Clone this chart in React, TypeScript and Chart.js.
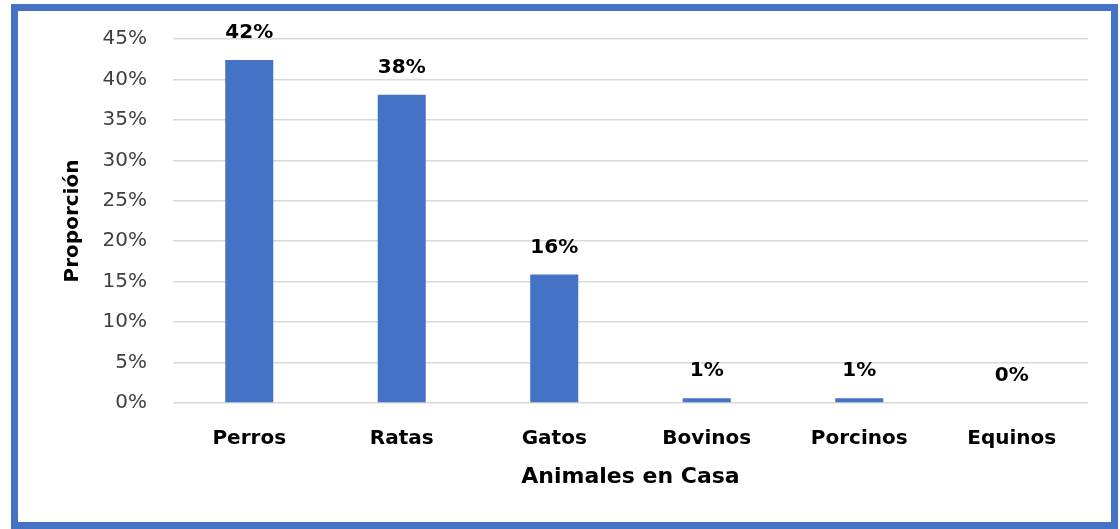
import React, { useEffect, useRef } from "react";
import { Chart, registerables } from "chart.js";

Chart.register(...registerables);

const categories = ["Perros", "Ratas", "Gatos", "Bovinos", "Porcinos", "Equinos"];
const proportions = [42.4, 38.1, 15.9, 0.6, 0.6, 0.0];
const yTicks = [0, 5, 10, 15, 20, 25, 30, 35, 40, 45];

const FONT = "'DejaVu Sans', sans-serif";

const dataLabelPlugin = {
  id: "dataLabels",
  afterDatasetsDraw(chart: any) {
    const ctx = chart.ctx;
    const meta = chart.getDatasetMeta(0);
    ctx.save();
    ctx.font = `bold 20px ${FONT}`;
    ctx.fillStyle = "#000000";
    ctx.textAlign = "center";
    ctx.textBaseline = "middle";
    meta.data.forEach((bar: any, i: number) => {
      const v = proportions[i];
      ctx.fillText(`${Math.round(v)}%`, bar.x, bar.y - 27);
    });
    ctx.restore();
  },
};

export default function App() {
  const canvasRef = useRef<HTMLCanvasElement | null>(null);

  useEffect(() => {
    if (!canvasRef.current) return;
    const chart = new Chart(canvasRef.current, {
      type: "bar",
      data: {
        labels: categories,
        datasets: [
          {
            data: proportions,
            backgroundColor: "#4472C4",
            borderWidth: 0,
            barPercentage: 0.315,
            categoryPercentage: 1,
          },
        ],
      },
      options: {
        animation: false,
        responsive: true,
        maintainAspectRatio: false,
        layout: { padding: { left: 61, right: 32, top: 39, bottom: 39 } },
        plugins: {
          legend: { display: false },
          tooltip: { enabled: false },
        },
        scales: {
          x: {
            grid: { display: false, drawTicks: false },
            border: { display: false },
            ticks: {
              color: "#000000",
              font: { family: FONT, size: 20, weight: "bold" },
              padding: 24,
              maxRotation: 0,
            },
            title: {
              display: true,
              text: "Animales en Casa",
              color: "#000000",
              font: { family: FONT, size: 22, weight: "bold" },
              padding: { top: 0, bottom: 0 },
            },
            afterFit(scale: any) {
              scale.height = 87;
            },
          },
          y: {
            min: 0,
            max: 45,
            afterBuildTicks(scale: any) {
              scale.ticks = yTicks.map((v) => ({ value: v }));
            },
            grid: { color: "#D9D9D9", lineWidth: 1.5, drawTicks: false },
            border: { display: false },
            ticks: {
              color: "#404040",
              font: { family: FONT, size: 20 },
              padding: 26,
              callback: (v: any) => `${v}%`,
            },
            title: {
              display: true,
              text: "Proporción",
              color: "#000000",
              font: { family: FONT, size: 20, weight: "bold" },
              padding: { top: 0, bottom: 0 },
            },
            afterFit(scale: any) {
              scale.width = 112;
            },
          },
        },
      },
      plugins: [dataLabelPlugin],
    });
    return () => chart.destroy();
  }, []);

  return (
    <div style={{ position: "absolute", left: 0, top: 0, width: 1120, height: 529, background: "#ffffff" }}>
      <div
        style={{
          position: "absolute",
          left: 11,
          top: 4,
          width: 1107,
          height: 525,
          border: "7px solid #4472C4",
          boxSizing: "border-box",
        }}
      />
      <div style={{ position: "absolute", left: 0, top: 0, width: 1120, height: 529 }}>
        <canvas ref={canvasRef} />
      </div>
    </div>
  );
}
